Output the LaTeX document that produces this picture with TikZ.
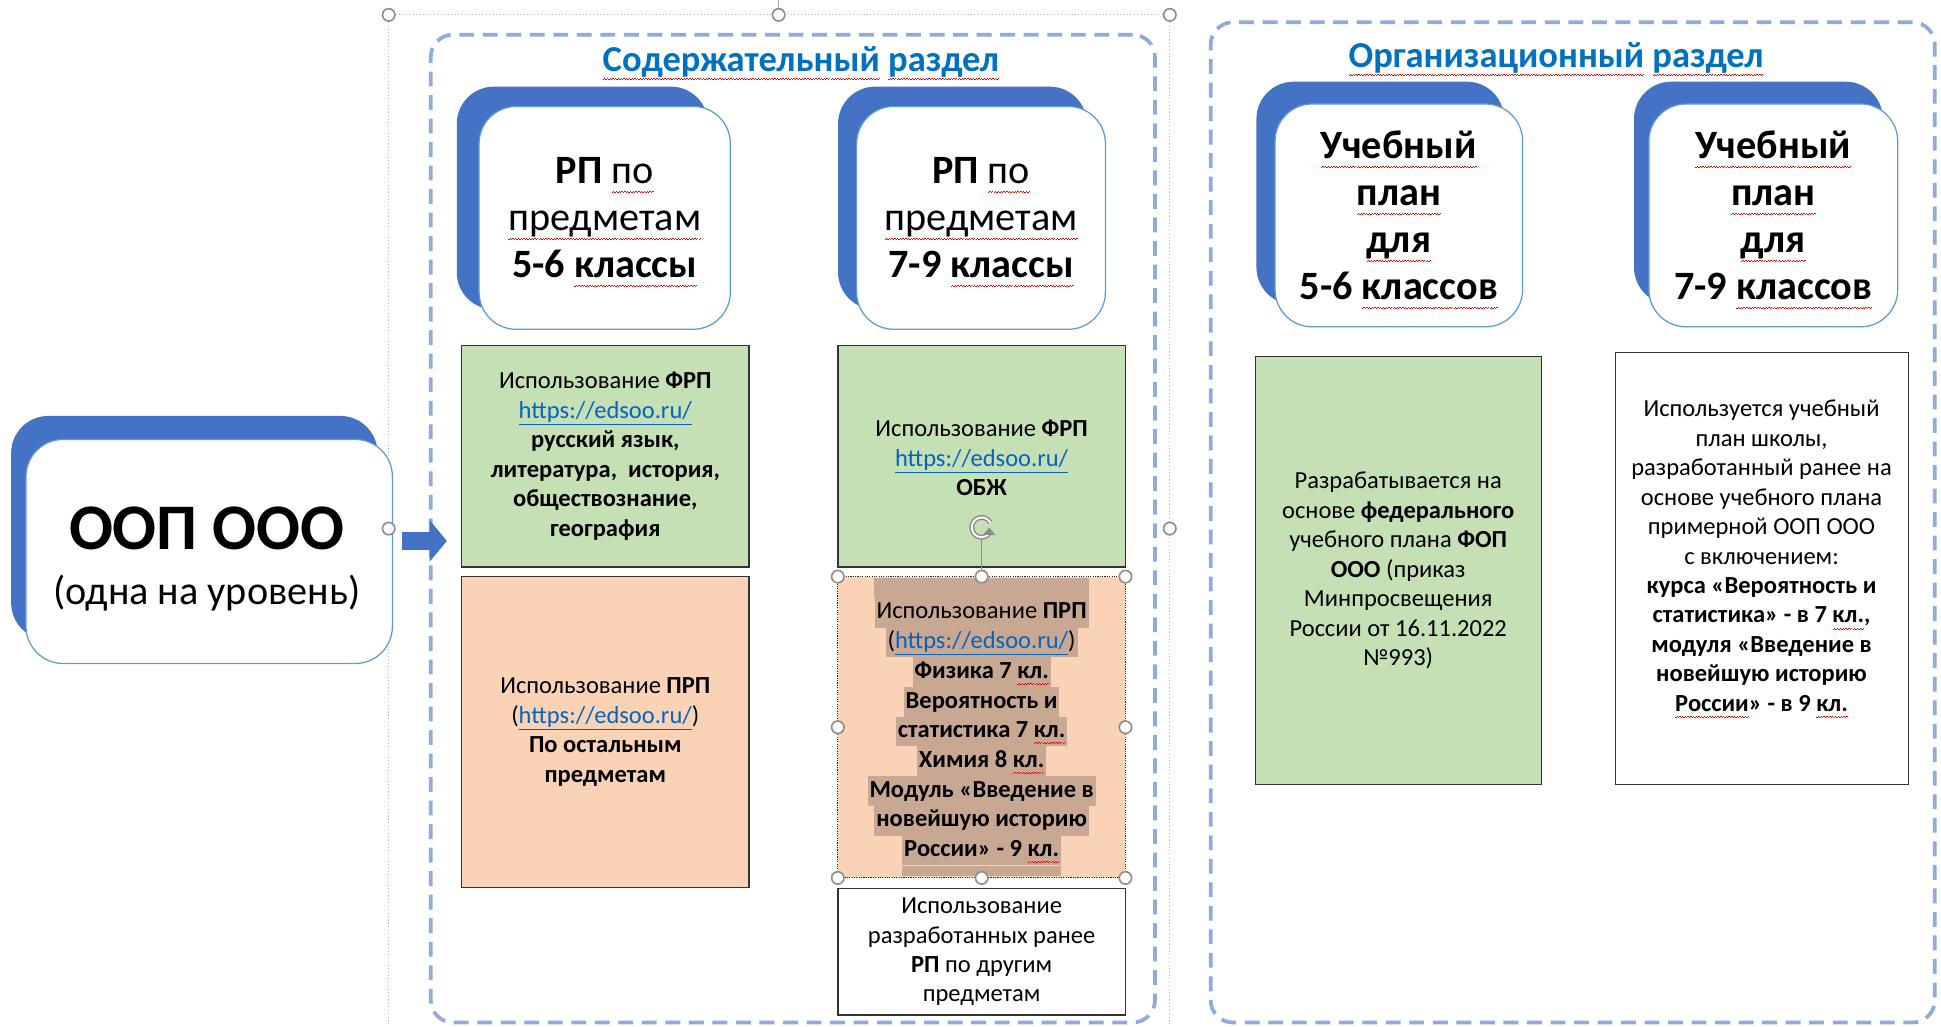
\documentclass[tikz,border=0pt]{standalone}
\usepackage{fontspec}
\setmainfont{Carlito}
\usetikzlibrary{arrows.meta}
\definecolor{secblue}{HTML}{8FAADC}
\definecolor{titleblue}{HTML}{0070C0}
\definecolor{shblue}{HTML}{4472C4}
\definecolor{edgeblue}{HTML}{5B9BD5}
\definecolor{fgreen}{HTML}{C5E0B4}
\definecolor{fpeach}{HTML}{FAD3B6}
\definecolor{hlcol}{RGB}{200,168,146}
\definecolor{linkblue}{HTML}{0563C1}
\definecolor{handlegrey}{HTML}{8C8C8C}
\newsavebox\splbox
\newcommand\spl[1]{\sbox\splbox{#1}\leavevmode\rlap{\color{red}\raisebox{-0.16em}[0pt][0pt]{\raisebox{-2.2pt}{\hbox to \wd\splbox{\xleaders\hbox{\rule[0pt]{1.1pt}{0.8pt}\rule[0.8pt]{1.1pt}{0.8pt}}\hfil}}}}\usebox\splbox}
\newcommand\lnk[1]{\textcolor{linkblue}{\underline{#1}}}
\tikzset{
 sec/.style={draw=secblue, line width=3pt, dash pattern=on 12pt off 7pt, rounded corners=18pt},
 frontbox/.style={fill=white, draw=edgeblue, line width=1pt, rounded corners=30pt},
 shadowfill/.style={fill=shblue, rounded corners=30pt},
 sbox/.style={draw=black!80, line width=1pt, align=center, font=\fontsize{19.8}{23.8}\selectfont, inner sep=0pt},
 txt/.style={align=center, font=\fontsize{19.8}{23.8}\selectfont, inner sep=0pt},
 bigtxt/.style={align=center, font=\fontsize{32.5}{38}\selectfont, inner sep=0pt},
 handle/.style={circle, draw=handlegrey, fill=white, line width=1.3pt, minimum size=10pt, inner sep=0pt},
 selline/.style={draw=black!30, line width=0.8pt, dotted},
 hl/.style={fill=hlcol, inner xsep=1.5pt, inner ysep=0pt, text height=17pt, text depth=7pt, anchor=base, font=\fontsize{19.8}{23.8}\selectfont\bfseries},
 ttl/.style={font=\fontsize{29.5}{34}\selectfont\bfseries, text=titleblue, inner sep=0pt},
}
\begin{document}
\begin{tikzpicture}[x=1pt,y=-1pt]
\useasboundingbox (0,0) rectangle (1568,829);
% group selection frame
\coordinate (gtl) at (314,12);
\coordinate (gtr) at (945,12);
\coordinate (gtm) at (629,12);
\draw[selline] (gtl) -- (gtr);
\draw[selline] (gtl) -- (314,829);
\draw[selline] (gtr) -- (945,829);
\draw[draw=black!35, line width=0.8pt] (gtm) -- (629,0);
% sections
\node[sec, minimum width=585pt, minimum height=798pt] (s1) at (640.5,427) {};
\node[sec, minimum width=585pt, minimum height=808pt] (s2) at (1270.5,422) {};
\node[ttl] (t1) at (647,50) {\spl{Содержательный} \spl{раздел}};
\node[ttl] (t2) at (1257,47) {\spl{Организационный} \spl{раздел}};
% OOP OOO
\fill[shadowfill] (9,336) rectangle (305,517);
\node[frontbox, minimum width=296pt, minimum height=181pt] (ooo) at (169,445.5) {};
\node[font=\fontsize{52.5}{60}\selectfont\bfseries, inner sep=0pt] (ooot) at (167,427) {ООП ООО};
\node[font=\fontsize{32.5}{36}\selectfont, inner sep=0pt] (ooos) at (167,479) {(одна на уровень)};
% RP boxes
\fill[shadowfill] (369,70) rectangle (572,250);
\node[frontbox, minimum width=203pt, minimum height=180pt, bigtxt] (rp1) at (488.5,176) {\textbf{РП} \spl{по}\\\spl{предметам}\\\textbf{5-6 \spl{классы}}};
\fill[shadowfill] (677,70) rectangle (878,250);
\node[frontbox, minimum width=201pt, minimum height=180pt, bigtxt] (rp2) at (792.5,176) {\textbf{РП} \spl{по}\\\spl{предметам}\\\textbf{7-9 \spl{классы}}};
% UP boxes
\fill[shadowfill] (1015,66) rectangle (1215,246);
\node[frontbox, minimum width=200pt, minimum height=180pt, bigtxt] (up1) at (1130,174) {\textbf{\spl{Учебный}}\\\textbf{\spl{план}}\\\textbf{\spl{для}}\\\textbf{5-6 \spl{классов}}};
\fill[shadowfill] (1320,66) rectangle (1521,246);
\node[frontbox, minimum width=201pt, minimum height=180pt, bigtxt] (up2) at (1432.5,174) {\textbf{\spl{Учебный}}\\\textbf{\spl{план}}\\\textbf{\spl{для}}\\\textbf{7-9 \spl{классов}}};
% arrow
\coordinate (a0) at (325,437);
\coordinate (a1) at (361,437);
\draw[shblue, line width=15pt, -{Triangle[width=33pt,length=14pt]}] (a0) -- (a1);
% content boxes left column
\node[sbox, fill=fgreen, minimum width=232pt, minimum height=179pt] (g1) at (489,368.5) {Использование \textbf{ФРП}\\\lnk{https://edsoo.ru/}\\\textbf{русский язык,}\\\textbf{литература,\ \ история,}\\\textbf{обществознание,}\\\textbf{география}};
\node[sbox, fill=fpeach, minimum width=232pt, minimum height=251pt] (p1) at (489,591.5) {Использование \textbf{ПРП}\\(\lnk{https://edsoo.ru/})\\\textbf{По остальным}\\\textbf{предметам}};
% right column of first section
\node[sbox, fill=fgreen, minimum width=232pt, minimum height=179pt] (g2) at (793,368.5) {};
\node[txt] (g2t) at (793,370) {Использование \textbf{ФРП}\\\lnk{https://edsoo.ru/}\\\textbf{ОБЖ}};
\node[fill=fpeach, minimum width=232pt, minimum height=243pt, inner sep=0pt] (p2) at (793,587.5) {};
\node[hl] (p2a) at (793,500) {\mdseries Использование \textbf{ПРП}};
\node[hl] (p2b) at (793,524) {\mdseries (\lnk{https://edsoo.ru/})};
\node[hl] (p2c) at (793,548) {Физика 7 \spl{кл.}};
\node[hl] (p2d) at (793,572) {Вероятность и};
\node[hl] (p2e) at (793,596) {статистика 7 \spl{кл.}};
\node[hl] (p2f) at (793,620) {Химия 8 \spl{кл.}};
\node[hl] (p2g) at (793,644) {Модуль «Введение в};
\node[hl] (p2h) at (793,668) {новейшую историю};
\node[hl] (p2i) at (793,692) {России» - 9 \spl{кл.}};
\fill[hlcol] (p2a.north west) rectangle ([yshift=-1.5pt]p2a.north east |- p2.north);
\fill[hlcol] (p2i.south west) rectangle ([yshift=1.5pt]p2i.south east |- p2.south);
\draw[black!85, line width=0.9pt, densely dotted] (p2.north west) rectangle (p2.south east);
\node[sbox, fill=white, minimum width=232pt, minimum height=102pt] (w1) at (793,769) {Использование\\разработанных ранее\\\textbf{РП} по другим\\предметам};
% rotation handle of selected box
\coordinate (rot) at (793,426);
\draw[handlegrey, line width=1pt] ([yshift=-8pt]rot) -- (p2.north);
\draw[handlegrey, line width=4pt] ([shift={(30:8pt)}]rot) arc[start angle=30, end angle=320, radius=8pt];
\draw[white, line width=1.6pt] ([shift={(30:8pt)}]rot) arc[start angle=30, end angle=320, radius=8pt];
\fill[handlegrey] ([shift={(320:8pt)}]rot) ++(-5pt,-1pt) -- ++(10pt,0pt) -- ++(-5pt,6pt) -- cycle;
% selection handles
\foreach \a [count=\i] in {north west,north,north east,west,east,south west,south,south east}
  \node[handle] (hp\i) at (p2.\a) {};
\node[handle] (hg1) at (gtl) {};
\node[handle] (hg2) at (gtm) {};
\node[handle] (hg3) at (gtr) {};
\node[handle] (hg4) at (314,427) {};
\node[handle] (hg5) at (945,427) {};
% organisational section boxes
\node[sbox, fill=fgreen, minimum width=231pt, minimum height=346pt] (g3) at (1129.5,461) {Разрабатывается на\\основе \textbf{федерального}\\учебного плана \textbf{ФОП}\\\textbf{ООО} (приказ\\Минпросвещения\\России от 16.11.2022\\№993)};
\node[sbox, fill=white, minimum width=237pt, minimum height=349pt] (w4) at (1423.5,459.5) {};
\node[txt] (w4t) at (1423,449) {Используется учебный\\план школы,\\разработанный ранее на\\основе учебного плана\\примерной ООП ООО\\с включением:\\\textbf{курса «Вероятность и}\\\textbf{статистика» - в 7 \spl{кл.},}\\\textbf{модуля «Введение в}\\\textbf{новейшую историю}\\\textbf{\spl{России}» - в 9 \spl{кл.}}};
\end{tikzpicture}
\end{document}
